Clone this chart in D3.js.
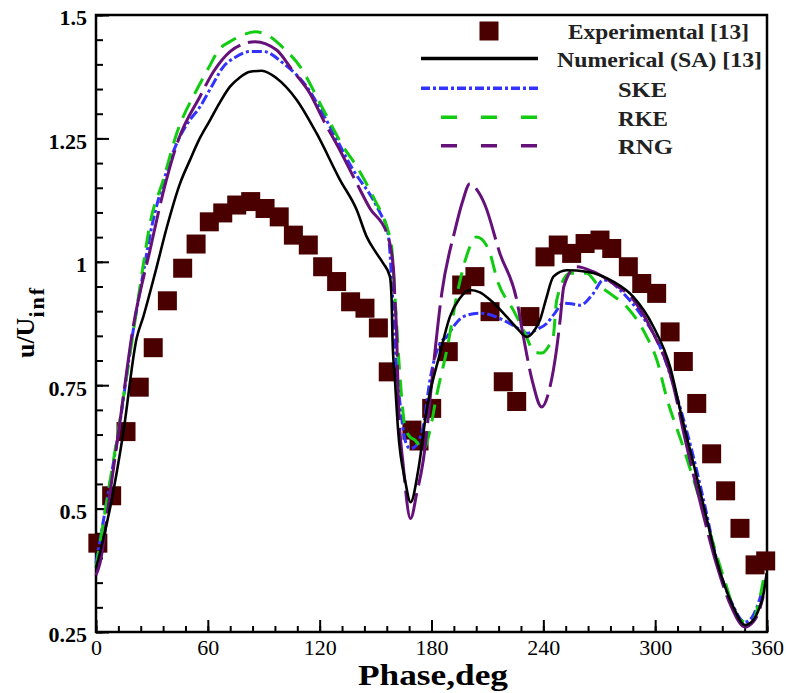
<!DOCTYPE html>
<html>
<head>
<meta charset="utf-8">
<script src="https://cdn.jsdelivr.net/npm/d3@7"></script>
<style>
  body { margin: 0; background: #fff; }
  text { font-family: "Liberation Serif", "Times New Roman", serif; }
</style>
</head>
<body>
<div id="chart"></div>
<script>
// tick values
var phaseTicks = [0, 60, 120, 180, 240, 300, 360];
var phaseMinor = d3.range(0, 361, 12);
var uTicks = [0.25, 0.5, 0.75, 1, 1.25, 1.5];
var uTickLabels = ["0.25", "0.5", "0.75", "1", "1.25", "1.5"];
var uMinor = d3.range(0.25, 1.501, 0.05);

// Experimental [13]
var expPhase = [1, 8.4, 16.1, 23.2, 30.7, 38.3, 46.5, 53.7, 60.8, 68, 75.5, 83, 90.7, 98.3, 105.9, 113.9,
  121.6, 129.1, 136.6, 144.3, 151.5, 156.8, 169.5, 173.3, 180.1, 189, 196.2, 203.3, 211.4, 218.5, 225.7,
  232.8, 240.9, 248, 255.2, 262.4, 270.4, 276.7, 285.6, 292.8, 300.8, 308, 315.1, 322.3, 330.3, 337.8,
  345.5, 353.6, 359.3];
var expU = [0.43, 0.526, 0.656, 0.746, 0.826, 0.921, 0.987, 1.036, 1.081, 1.099, 1.115, 1.122, 1.108, 1.091,
  1.054, 1.034, 0.99, 0.96, 0.919, 0.906, 0.866, 0.777, 0.659, 0.637, 0.703, 0.818, 0.953, 0.97, 0.899,
  0.757, 0.717, 0.889, 1.01, 1.034, 1.017, 1.037, 1.044, 1.027, 0.99, 0.956, 0.936, 0.858, 0.798, 0.713,
  0.611, 0.536, 0.46, 0.386, 0.394];

// Numerical (SA) [13]
var saPhase = [0, 2.1, 7.5, 14.6, 21.8, 25.4, 31.7, 38, 45.1, 50.4, 55, 61.2, 66, 71.9, 77, 82.6, 88.9, 96.9,
  107.7, 118.4, 130.9, 139.9, 145.2, 150, 154.1, 157.7, 158.6, 159.1, 160.4, 162.2, 165.8, 168.8, 172.9,
  177.4, 184.6, 189.9, 195, 200.6, 206, 211.4, 220.3, 226, 231.1, 235, 238.2, 241.5, 245.4, 252.5, 263.3,
  277.5, 288.3, 299, 308, 314, 320.5, 327, 333, 341.9, 348.2, 352.6, 356, 358, 359.8];
var saU = [0.38, 0.41, 0.5, 0.653, 0.845, 0.889, 0.977, 1.07, 1.159, 1.206, 1.245, 1.287, 1.32, 1.355, 1.373,
  1.385, 1.387, 1.372, 1.328, 1.26, 1.166, 1.105, 1.051, 1.02, 0.997, 0.97, 0.923, 0.842, 0.76, 0.653,
  0.558, 0.513, 0.578, 0.7, 0.815, 0.889, 0.925, 0.943, 0.938, 0.923, 0.889, 0.865, 0.848, 0.86, 0.882,
  0.925, 0.97, 0.983, 0.98, 0.96, 0.929, 0.869, 0.787, 0.69, 0.592, 0.49, 0.396, 0.301, 0.264, 0.274,
  0.3, 0.325, 0.369];

// SKE
var skePhase = [0, 6, 12, 20, 25, 29.9, 36, 43.3, 49, 55.8, 62, 68.3, 75, 82.6, 89.8, 100.5, 113, 125.5, 138,
  148.8, 153, 156, 157.5, 158.6, 160.4, 161.3, 163.5, 165.8, 168.5, 171.1, 173.5, 175.6, 179.2, 184.6,
  188.2, 192, 197.1, 206, 218.5, 226, 231.1, 236, 241.8, 246, 250.7, 255, 259.7, 266.8, 272.2, 276,
  281.1, 291.8, 302.6, 313.3, 320.5, 327, 333, 341, 348.2, 352, 355.5, 359];
var skeU = [0.39, 0.52, 0.653, 0.862, 0.97, 1.071, 1.16, 1.24, 1.28, 1.314, 1.355, 1.395, 1.415, 1.426, 1.426,
  1.402, 1.355, 1.274, 1.186, 1.125, 1.095, 1.071, 1.03, 0.963, 0.842, 0.787, 0.7, 0.639, 0.622, 0.625,
  0.64, 0.666, 0.761, 0.835, 0.848, 0.87, 0.889, 0.896, 0.882, 0.866, 0.855, 0.862, 0.875, 0.895, 0.916,
  0.915, 0.912, 0.936, 0.963, 0.96, 0.943, 0.896, 0.828, 0.706, 0.605, 0.5, 0.396, 0.31, 0.27, 0.28,
  0.31, 0.355];

// RKE
var rkePhase = [0, 6, 12, 20.9, 25, 29, 36.1, 43.3, 54, 60, 66.5, 71.9, 78, 85.3, 93.4, 100, 109.4, 122, 132.7,
  139.9, 150.6, 154.1, 156.5, 158.6, 160.4, 163.1, 165.8, 168.5, 171.1, 175.6, 179.2, 182.8, 188.2, 194.2,
  199, 204.2, 210.3, 215.8, 223.9, 229.3, 235.5, 239.1, 243, 245.3, 247.2, 254.3, 263.3, 268.6, 276,
  284.7, 295.5, 301, 306, 315, 322.3, 329.5, 336.6, 345.6, 351.8, 355, 358];
var rkeU = [0.38, 0.52, 0.66, 0.88, 0.985, 1.078, 1.166, 1.26, 1.348, 1.39, 1.432, 1.446, 1.458, 1.466, 1.456,
  1.435, 1.396, 1.308, 1.233, 1.193, 1.118, 1.091, 1.065, 1.031, 0.929, 0.767, 0.666, 0.645, 0.639, 0.619,
  0.659, 0.73, 0.821, 0.943, 1.014, 1.05, 1.028, 0.957, 0.902, 0.862, 0.817, 0.815, 0.83, 0.848, 0.923,
  0.977, 0.977, 0.956, 0.935, 0.909, 0.848, 0.8, 0.727, 0.625, 0.538, 0.45, 0.362, 0.274, 0.268, 0.3, 0.355];

// RNG
var rngPhase = [0, 2.1, 7.5, 13, 20, 29, 36, 44.2, 55.8, 63, 71.9, 78, 85.3, 96.9, 105, 114.8, 122, 131, 139.9,
  147, 156, 159.5, 160.4, 161.3, 162.2, 164.9, 168.8, 172.1, 175.6, 181, 185.5, 192.6, 196.5, 200.6, 204.5,
  208.7, 216.7, 225.7, 229.3, 234, 239.1, 243.6, 247, 249, 251, 257.9, 266.8, 277.5, 288.3, 299, 308, 317,
  325, 333, 341, 348.2, 352.5, 355.5, 358];
var rngU = [0.365, 0.389, 0.531, 0.68, 0.869, 1.024, 1.14, 1.247, 1.335, 1.385, 1.426, 1.44, 1.446, 1.429, 1.39,
  1.341, 1.287, 1.225, 1.159, 1.108, 1.058, 0.99, 0.923, 0.855, 0.72, 0.585, 0.48, 0.531, 0.598, 0.788,
  0.936, 1.064, 1.12, 1.158, 1.145, 1.115, 1.017, 0.923, 0.848, 0.76, 0.706, 0.747, 0.82, 0.882, 0.95,
  0.99, 0.98, 0.956, 0.923, 0.855, 0.774, 0.625, 0.5, 0.386, 0.3, 0.26, 0.27, 0.29, 0.322];

var legendNames = ["Experimental [13]", "Numerical (SA) [13]", "SKE", "RKE", "RNG"];

var W = 786, H = 693;
var mLeft = 96, mRight = 767, mTop = 15, mBottom = 632;

var x = d3.scaleLinear().domain([0, 360]).range([mLeft, mRight]);
var y = d3.scaleLinear().domain([0.25, 1.5]).range([mBottom, mTop]);

var svg = d3.select("#chart").append("svg")
  .attr("width", W)
  .attr("height", H);

// minor ticks
svg.append("g")
  .attr("transform", "translate(0," + mBottom + ")")
  .call(d3.axisBottom(x).tickValues(phaseMinor).tickSize(-6).tickFormat(""));
svg.append("g")
  .attr("transform", "translate(" + mLeft + ",0)")
  .call(d3.axisLeft(y).tickValues(uMinor).tickSize(-7).tickFormat(""));

// major ticks + labels
var xAxis = svg.append("g")
  .attr("transform", "translate(0," + mBottom + ")")
  .call(d3.axisBottom(x).tickValues(phaseTicks).tickSize(-12).tickPadding(7));
xAxis.attr("font-family", null).attr("font-size", null);
xAxis.selectAll("text")
  .attr("font-size", 22)
  .attr("fill", "#000");

var yAxis = svg.append("g")
  .attr("transform", "translate(" + mLeft + ",0)")
  .call(d3.axisLeft(y).tickValues(uTicks).tickSize(-13).tickPadding(9)
    .tickFormat(function (d, i) { return uTickLabels[i]; }));
yAxis.attr("font-family", null).attr("font-size", null);
yAxis.selectAll("text")
  .attr("font-size", 22)
  .attr("font-weight", "bold")
  .attr("dy", "0.45em")
  .attr("fill", "#000");

svg.selectAll(".domain").remove();
svg.selectAll(".tick line").attr("stroke", "#000").attr("stroke-width", 2);

// frame
svg.append("rect")
  .attr("x", mLeft).attr("y", mTop)
  .attr("width", mRight - mLeft).attr("height", mBottom - mTop)
  .attr("fill", "none")
  .attr("stroke", "#000")
  .attr("stroke-width", 2.5);

// experimental squares
var sq = 19;
svg.append("g").selectAll("rect")
  .data(expPhase)
  .enter()
  .append("rect")
  .attr("x", function (d) { return x(d) - sq / 2; })
  .attr("y", function (d, i) { return y(expU[i]) - sq / 2; })
  .attr("width", sq)
  .attr("height", sq)
  .attr("fill", "#4b0000");

function drawLine(px, py, color, width, dash) {
  var line = d3.line()
    .x(function (d) { return x(px[d]); })
    .y(function (d) { return y(py[d]); })
    .curve(d3.curveMonotoneX);
  svg.append("path")
    .attr("d", line(d3.range(px.length)))
    .attr("fill", "none")
    .attr("stroke", color)
    .attr("stroke-width", width)
    .attr("stroke-dasharray", dash)
    .attr("stroke-linejoin", "round");
}

var skeColor = "#3333ff", rkeColor = "#11cc11", rngColor = "#66107a";
drawLine(skePhase, skeU, skeColor, 3, "10,3,3,3");
drawLine(rkePhase, rkeU, rkeColor, 3, "17,10");
drawLine(rngPhase, rngU, rngColor, 3, "55,8");
drawLine(saPhase, saU, "#000", 2.6, null);

// legend
var lg = svg.append("g");
lg.append("rect")
  .attr("x", 489 - sq / 2).attr("y", 31 - sq / 2)
  .attr("width", sq).attr("height", sq)
  .attr("fill", "#4b0000");

var legY = [58.5, 88.3, 117.3, 145.7];
var legStyle = [
  { c: "#000", w: 3.5, d: null, o: 0 },
  { c: skeColor, w: 3.5, d: "9,3,3,3", o: 0 },
  { c: rkeColor, w: 3.5, d: "16,24", o: 20 },
  { c: rngColor, w: 3.5, d: "16,24", o: 20 }
];
legY.forEach(function (ly, i) {
  lg.append("line")
    .attr("x1", 421).attr("x2", 538)
    .attr("y1", ly).attr("y2", ly)
    .attr("stroke", legStyle[i].c)
    .attr("stroke-width", legStyle[i].w)
    .attr("stroke-dasharray", legStyle[i].d)
    .attr("stroke-dashoffset", legStyle[i].o);
});

var legTx = [568, 557, 618, 618, 618];
var legTw = [181, 205, 49, 50, 55];
var legBase = [39, 67, 96.5, 125.5, 154];
lg.selectAll("text.leg")
  .data(legendNames)
  .enter()
  .append("text")
  .attr("class", "leg")
  .attr("x", function (d, i) { return legTx[i]; })
  .attr("y", function (d, i) { return legBase[i]; })
  .attr("textLength", function (d, i) { return legTw[i]; })
  .attr("lengthAdjust", "spacingAndGlyphs")
  .attr("font-size", 21)
  .attr("font-weight", "bold")
  .attr("fill", "#222")
  .text(function (d) { return d; });

// axis titles
svg.append("text")
  .attr("x", 433).attr("y", 685)
  .attr("text-anchor", "middle")
  .attr("font-size", 30)
  .attr("font-weight", "bold")
  .attr("textLength", 150)
  .attr("lengthAdjust", "spacingAndGlyphs")
  .text("Phase,deg");

var yt = svg.append("text")
  .attr("transform", "translate(34,322) rotate(-90)")
  .attr("text-anchor", "middle")
  .attr("font-weight", "bold")
  .attr("font-size", 26);
yt.append("tspan").text("u/U");
yt.append("tspan").attr("dy", 10).attr("font-size", 22).attr("letter-spacing", 2).text("inf");
</script>
</body>
</html>
